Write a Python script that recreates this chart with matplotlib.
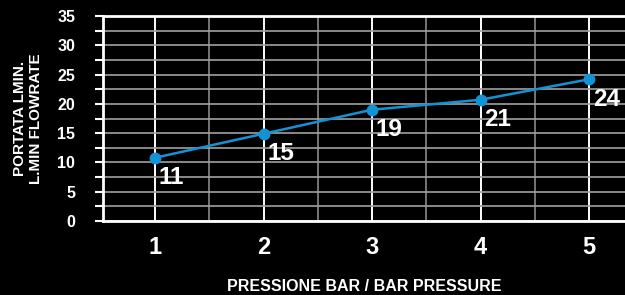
import matplotlib
matplotlib.use("Agg")
import matplotlib.pyplot as plt

pressure = [1, 2, 3, 4, 5]
flow = [10.8, 14.9, 19.0, 20.7, 24.2]
flow_labels = ["11", "15", "19", "21", "24"]

plt.rcParams['font.family'] = ['Liberation Sans', 'DejaVu Sans']
plt.rcParams['font.weight'] = 'bold'

fig = plt.figure(figsize=(6.25, 2.95), dpi=100, facecolor='black')
ax = fig.add_axes([0.1648, 0.2508, 0.8352, 0.695])
ax.set_facecolor('black')

ax.set_xlim(0.52, 5.33)
ax.set_ylim(0, 35)
ax.set_xticks(pressure)
ax.set_xticks([1.5, 2.5, 3.5, 4.5], minor=True)
ax.set_yticks(range(0, 36, 5))
ax.set_yticks([2.5 + 5 * i for i in range(7)], minor=True)

# grid: white on whole bars, grey on halves, grey horizontals
ax.grid(which='major', axis='x', color='white', lw=1.4)
ax.grid(which='minor', axis='x', color='#8a8a8a', lw=1.2)
ax.grid(which='both', axis='y', color='#a0a0a0', lw=1.2)
ax.set_axisbelow(True)

for side in ['left', 'bottom', 'top']:
    ax.spines[side].set_color('white')
    ax.spines[side].set_linewidth(2)
ax.spines['right'].set_visible(False)

ax.tick_params(axis='y', which='both', colors='white', length=6, width=1.5,
               pad=14, labelsize=11.5)
ax.tick_params(axis='x', which='both', colors='white', length=0, pad=11,
               labelsize=17)

ax.plot(pressure, flow, color='#1193d6', lw=1.8, marker='o', markersize=7.5,
        clip_on=False, zorder=5)
for x, y, lab in zip(pressure, flow, flow_labels):
    ax.annotate(lab, (x, y), xytext=(2.5, -19), textcoords='offset points',
                ha='left', va='baseline', color='white', fontsize=17.5,
                fontweight='bold', zorder=6)

ax.set_xlabel("PRESSIONE BAR / BAR PRESSURE", color='white', fontsize=11.5,
              fontweight='bold')
ax.xaxis.set_label_coords(0.5, -0.285)
ax.set_ylabel("PORTATA LMIN.\nL.MIN FLOWRATE", color='white', fontsize=11,
              fontweight='bold', linespacing=1.15)
ax.yaxis.set_label_coords(-0.115, 0.5)

fig.savefig("out.png", dpi=100, facecolor='black')
